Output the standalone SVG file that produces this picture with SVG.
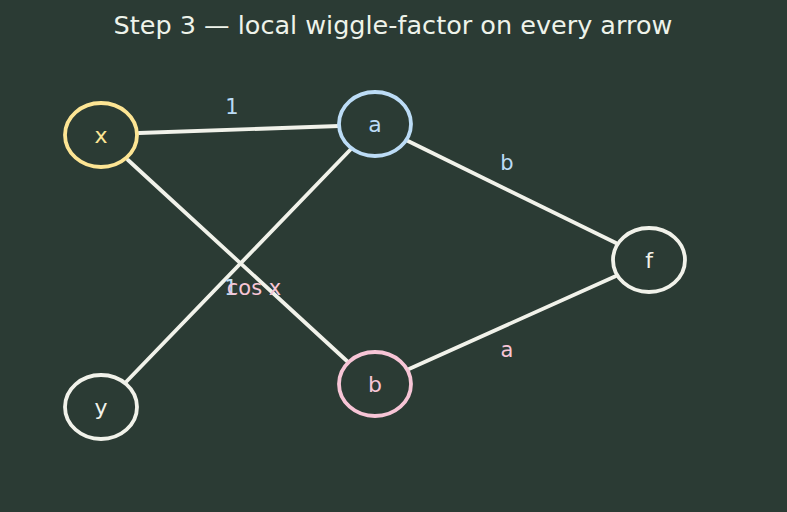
<svg xmlns="http://www.w3.org/2000/svg" width="787" height="512" viewBox="0 0 787 512">
<style>
.bg{fill:#2b3b34}
.edge{stroke:#f1f2ea;stroke-width:3.8;fill:none;stroke-linecap:round}
.node{fill:#2b3b34;stroke-width:3.8}
.nl{font-family:"DejaVu Sans",sans-serif;font-size:22px;text-anchor:middle}
.el{font-family:"DejaVu Sans",sans-serif;font-size:21px;text-anchor:middle}
.title{font-family:"DejaVu Sans",sans-serif;font-size:25.5px;fill:#eef3ea;text-anchor:middle}
.blue{fill:#bcdcf6}
.pink{fill:#f7c5d6}
</style>
<rect class="bg" x="0" y="0" width="787" height="512"/>
<text class="title" x="393" y="34">Step 3 — local wiggle-factor on every arrow</text>
<g id="connectors">
<line class="edge" x1="139" y1="133" x2="339" y2="126"/>
<line class="edge" x1="128" y1="160" x2="348" y2="362"/>
<line class="edge" x1="126" y1="382" x2="351" y2="149"/>
<line class="edge" x1="408" y1="141" x2="616" y2="243"/>
<line class="edge" x1="409" y1="369" x2="616" y2="276"/>
<text class="el blue" x="232" y="114">1</text>
<text class="el blue" x="507" y="170">b</text>
<text class="el pink" x="507" y="357">a</text>
<text class="el blue" x="231" y="295">1</text>
<text class="el pink" x="254" y="295">cos x</text>
</g>
<g id="node-x">
<ellipse class="node" cx="101" cy="135" rx="36" ry="32" stroke="#fde594"/>
<text class="nl" x="101" y="143" fill="#fde594">x</text>
</g>
<g id="node-a">
<ellipse class="node" cx="375" cy="124" rx="36" ry="32" stroke="#bcdcf6"/>
<text class="nl" x="375" y="132" fill="#bcdcf6">a</text>
</g>
<g id="node-b">
<ellipse class="node" cx="375" cy="384" rx="36" ry="32" stroke="#f7c5d6"/>
<text class="nl" x="375" y="392" fill="#f7c5d6">b</text>
</g>
<g id="node-f">
<ellipse class="node" cx="649" cy="260" rx="36" ry="32" stroke="#f1f2ea"/>
<text class="nl" x="649" y="268" fill="#f1f2ea">f</text>
</g>
<g id="node-y">
<ellipse class="node" cx="101" cy="407" rx="36" ry="32" stroke="#f1f2ea"/>
<text class="nl" x="101" y="415" fill="#f1f2ea">y</text>
</g>
</svg>
